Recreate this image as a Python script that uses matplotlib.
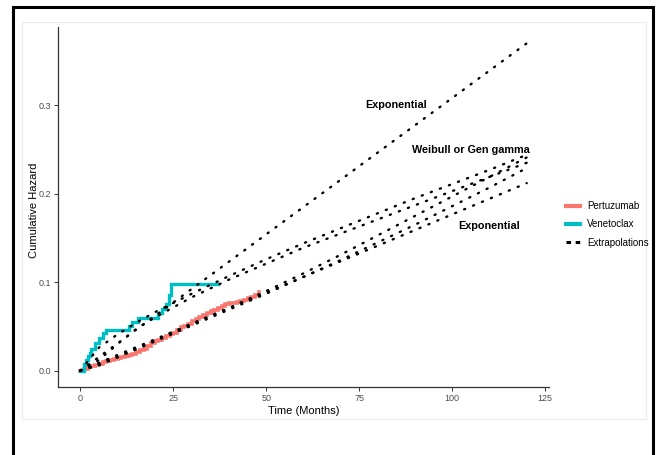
import matplotlib
matplotlib.use("Agg")
import matplotlib.pyplot as plt
from matplotlib.lines import Line2D
from matplotlib.patches import Rectangle

plt.rcParams['font.family'] = ['Liberation Sans', 'DejaVu Sans']

# Kaplan-Meier style cumulative hazard (step functions)
pert_t = [0, 1, 2, 3, 4, 5, 6, 7, 8, 9, 10, 11, 12, 13, 14, 15, 16, 17, 18, 19,
          20, 21, 22, 23, 24, 25, 26, 27, 28, 29, 30, 31, 32, 33, 34, 35, 36, 37,
          38, 39, 40, 41, 42, 43, 44, 45, 46, 47, 48]
pert_H = [0, 0.002, 0.004, 0.005, 0.006, 0.008, 0.010, 0.011, 0.012, 0.013, 0.014,
          0.015, 0.017, 0.018, 0.019, 0.021, 0.023, 0.025, 0.028, 0.031, 0.033,
          0.035, 0.037, 0.039, 0.041, 0.043, 0.046, 0.049, 0.051, 0.053, 0.056,
          0.058, 0.061, 0.063, 0.065, 0.067, 0.069, 0.071, 0.073, 0.075, 0.076,
          0.077, 0.078, 0.079, 0.080, 0.082, 0.083, 0.086, 0.089]

ven_t = [0, 1, 1.5, 2, 2.5, 3, 4, 5, 6, 7, 13, 14, 15.5, 21, 22, 23, 23.8, 24.3, 37]
ven_H = [0, 0.008, 0.012, 0.016, 0.020, 0.025, 0.031, 0.037, 0.042, 0.046, 0.050,
         0.055, 0.060, 0.065, 0.070, 0.075, 0.085, 0.098, 0.098]

# Extrapolations
ext_t = [0, 5, 10, 15, 20, 30, 40, 50, 60, 70, 80, 90, 100, 110, 120]
ven_exp = [0, 0.0154, 0.0308, 0.0463, 0.0617, 0.0925, 0.1233, 0.1542, 0.185,
           0.2158, 0.2467, 0.2775, 0.3083, 0.3392, 0.37]
ven_weib = [0, 0.026, 0.041, 0.054, 0.066, 0.087, 0.107, 0.126, 0.144, 0.161,
            0.178, 0.195, 0.211, 0.227, 0.244]
ven_gg = [0, 0.012, 0.030, 0.047, 0.060, 0.083, 0.103, 0.121, 0.139, 0.155,
          0.171, 0.187, 0.203, 0.219, 0.235]
pert_exp = [0, 0.0088, 0.0177, 0.0265, 0.0353, 0.053, 0.0707, 0.0883, 0.106,
            0.1237, 0.1413, 0.159, 0.1767, 0.1943, 0.212]
pert_weib = [0, 0.007, 0.016, 0.025, 0.034, 0.053, 0.071, 0.090, 0.110, 0.131,
             0.153, 0.175, 0.197, 0.219, 0.241]
pert_gg = [0, 0.006, 0.015, 0.024, 0.033, 0.051, 0.069, 0.087, 0.106, 0.125,
           0.145, 0.165, 0.186, 0.207, 0.229]

labels = ["Exponential", "Weibull or Gen gamma", "Exponential"]
label_x = [85, 105, 110]
label_y = [0.300, 0.249, 0.163]

x_ticks = [0, 25, 50, 75, 100, 125]
y_ticks = [0.0, 0.1, 0.2, 0.3]

W, H = 656, 455
fig = plt.figure(figsize=(W / 100, H / 100), dpi=100)

# outer black frame (open at the bottom) and inner light panel
frame_x = [13 / W, 13 / W, 653 / W, 653 / W]
frame_y = [-0.05, 1 - 7 / H, 1 - 7 / H, -0.05]
fig.add_artist(Line2D(frame_x, frame_y, transform=fig.transFigure,
                      color='black', lw=2.2, solid_joinstyle='miter'))
fig.patches.append(Rectangle((22 / W, 1 - 419 / H), (646 - 22) / W, (419 - 22) / H,
                             transform=fig.transFigure, fill=False,
                             edgecolor='#EBEBEB', linewidth=0.8))

ax = fig.add_axes([58 / W, 1 - 387 / H, (549 - 58) / W, (387 - 27) / H])

red = '#F8766D'
cyan = '#00BFC4'
ax.step(pert_t, pert_H, where='post', color=red, lw=2.6, solid_joinstyle='miter')
ax.step(ven_t, ven_H, where='post', color=cyan, lw=2.4, solid_joinstyle='miter')

dot = (0, (0.5, 3.6))
for ys in [ven_exp, ven_weib, ven_gg, pert_exp, pert_weib, pert_gg]:
    ax.plot(ext_t, ys, color='black', lw=1.7, linestyle=dot, dash_capstyle='round')

for s, x, y in zip(labels, label_x, label_y):
    ax.text(x, y, s, ha='center', va='center', fontsize=7.8, fontweight='bold',
            color='black')

ax.set_xlim(-6, 126)
ax.set_ylim(-0.0185, 0.3885)
ax.set_xticks(x_ticks)
ax.set_xticklabels([str(v) for v in x_ticks])
ax.set_yticks(y_ticks)
ax.set_yticklabels([f"{v:.1f}" for v in y_ticks])
for sp in ['top', 'right']:
    ax.spines[sp].set_visible(False)
for sp in ['left', 'bottom']:
    ax.spines[sp].set_color('#333333')
    ax.spines[sp].set_linewidth(0.9)
ax.tick_params(axis='both', colors='#333333', labelcolor='#4D4D4D',
               labelsize=6.5, length=3, width=0.7, pad=2)
ax.set_xlabel("Time (Months)", fontsize=8, labelpad=2)
ax.set_ylabel("Cumulative Hazard", fontsize=8)
ax.yaxis.set_label_coords(-19 / (549 - 58), 0.49)

handles = [Line2D([], [], color=red, lw=3),
           Line2D([], [], color=cyan, lw=3),
           Line2D([], [], color='black', lw=2.2, linestyle=(0, (1.5, 1.5)))]
fig.legend(handles, ["Pertuzumab", "Venetoclax", "Extrapolations"],
           loc='center left', bbox_to_anchor=(566 / W, 1 - 224.5 / H),
           frameon=False, fontsize=7, handlelength=1.45, handletextpad=0.7,
           labelspacing=0.85, borderpad=0, borderaxespad=0)

fig.savefig("out.png", dpi=100)
